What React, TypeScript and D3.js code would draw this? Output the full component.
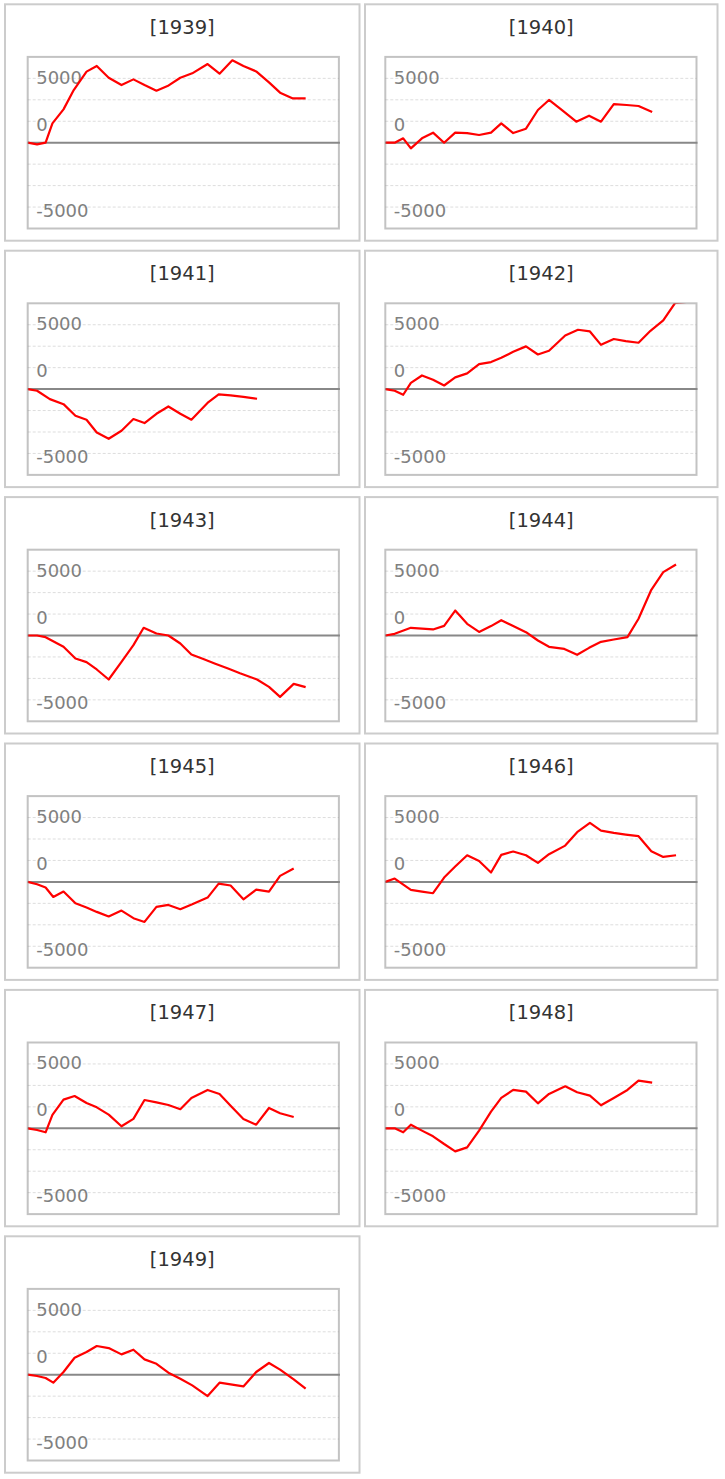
import React from "react";
import * as d3 from "d3";

// ---- data: [day of year, value] ----
const s1939: [number, number][] = [
  [0, 0], [11, -130], [21, 0], [29, 1500], [42, 2590], [54, 4090], [69, 5520], [81, 5960],
  [95, 5050], [110, 4480], [124, 4920], [137, 4480], [151, 4040], [164, 4400], [179, 5050],
  [193, 5390], [211, 6110], [225, 5360], [240, 6400], [253, 5960], [268, 5540], [283, 4690],
  [296, 3890], [311, 3440], [326, 3440],
];
const s1940: [number, number][] = [
  [0, 0], [11, 0], [21, 340], [30, -440], [43, 340], [56, 780], [69, 0], [82, 780], [96, 750],
  [110, 600], [124, 780], [136, 1500], [150, 750], [165, 1090], [179, 2540], [192, 3320],
  [208, 2490], [224, 1630], [239, 2100], [253, 1630], [268, 3000], [283, 2930], [297, 2850],
  [313, 2380],
];
const s1941: [number, number][] = [
  [0, 0], [11, -130], [26, -780], [42, -1170], [56, -2070], [69, -2380], [81, -3370],
  [95, -3860], [110, -3240], [124, -2330], [137, -2640], [151, -1920], [165, -1350],
  [179, -1920], [192, -2380], [212, -1010], [224, -410], [238, -490], [253, -600], [269, -750],
];
const s1942: [number, number][] = [
  [0, 0], [11, -130], [21, -440], [30, 490], [43, 1060], [56, 730], [69, 280], [82, 910],
  [96, 1220], [110, 1940], [124, 2100], [136, 2430], [150, 2900], [165, 3320], [179, 2690],
  [192, 2980], [211, 4170], [226, 4610], [240, 4480], [253, 3440], [268, 3890], [282, 3730],
  [297, 3600], [311, 4530], [326, 5340], [340, 6700], [354, 6780],
];
const s1943: [number, number][] = [
  [0, 0], [11, 0], [21, -130], [42, -880], [56, -1790], [69, -2070], [81, -2640], [95, -3420],
  [110, -2050], [124, -750], [136, 600], [151, 155], [165, 0], [179, -620], [192, -1480],
  [206, -1830], [220, -2190], [235, -2560], [249, -2930], [269, -3420], [283, -3990],
  [296, -4770], [312, -3760], [326, -4010],
];
const s1944: [number, number][] = [
  [0, 0], [11, 130], [30, 600], [43, 540], [56, 470], [69, 750], [82, 1940], [96, 910],
  [110, 280], [124, 730], [136, 1190], [150, 730], [165, 260], [179, -390], [192, -880],
  [210, -1040], [225, -1500], [239, -960], [253, -490], [268, -310], [284, -130], [297, 1300],
  [312, 3550], [326, 4920], [341, 5520],
];
const s1945: [number, number][] = [
  [0, 0], [11, -180], [21, -440], [30, -1170], [42, -750], [56, -1660], [69, -1990],
  [81, -2330], [95, -2690], [110, -2230], [124, -2820], [137, -3110], [151, -1940],
  [165, -1790], [179, -2120], [193, -1740], [211, -1220], [224, -130], [238, -280],
  [253, -1350], [268, -600], [283, -750], [296, 470], [312, 1040],
];
const s1946: [number, number][] = [
  [0, 0], [11, 260], [30, -620], [43, -750], [56, -880], [69, 340], [82, 1190], [96, 2070],
  [110, 1630], [124, 730], [136, 2100], [150, 2360], [165, 2070], [179, 1480], [192, 2150],
  [211, 2820], [225, 3860], [240, 4580], [253, 3990], [268, 3810], [282, 3680], [297, 3550],
  [312, 2380], [326, 1940], [341, 2070],
];
const s1947: [number, number][] = [
  [0, 0], [11, -130], [21, -310], [29, 1040], [42, 2230], [55, 2510], [69, 1970], [81, 1630],
  [95, 1060], [110, 155], [124, 730], [137, 2200], [151, 2020], [165, 1810], [179, 1480],
  [192, 2360], [211, 2980], [225, 2670], [238, 1760], [253, 730], [268, 280], [283, 1580],
  [296, 1170], [312, 880],
];
const s1948: [number, number][] = [
  [0, 0], [11, 0], [21, -310], [30, 280], [43, -180], [56, -620], [69, -1220], [82, -1790],
  [96, -1480], [110, -180], [124, 1300], [136, 2360], [150, 2980], [165, 2850], [179, 1940],
  [192, 2670], [211, 3260], [225, 2800], [240, 2540], [253, 1790], [268, 2360], [284, 2980],
  [297, 3700], [313, 3550],
];
const s1949: [number, number][] = [
  [0, 0], [11, -100], [21, -260], [30, -620], [42, 210], [55, 1320], [69, 1760], [81, 2230],
  [95, 2070], [110, 1580], [124, 1940], [137, 1190], [151, 850], [165, 155], [179, -310],
  [193, -830], [211, -1660], [225, -620], [238, -750], [253, -910], [268, 210], [283, 910],
  [296, 390], [312, -360], [326, -1090],
];

const years = ["1939", "1940", "1941", "1942", "1943", "1944", "1945", "1946", "1947", "1948", "1949"];
const series = [s1939, s1940, s1941, s1942, s1943, s1944, s1945, s1946, s1947, s1948, s1949];
const tickLabels = [5000, 0, -5000];
const yMax = 6666.67;
const dayMax = 365;

// ---- layout ----
const W = 725;
const H = 1479;
const cols = [
  { outerX: 5, outerW: 354.5, plotX: 27.7 },
  { outerX: 365, outerW: 352.5, plotX: 385.3 },
];
const rowPitch = 246.4;
const firstTop = 4.3;
const outerH = 236.4;
const plotTopOff = 52.6;
const plotH = 171.6;
const plotW = 311.2;
const FONT = "'DejaVu Sans', Verdana, sans-serif";

function Panel({ idx }: { idx: number }) {
  const col = cols[idx % 2];
  const row = Math.floor(idx / 2);
  const top = firstTop + row * rowPitch;
  const px = col.plotX;
  const py = top + plotTopOff;
  const x = d3.scaleLinear().domain([0, dayMax]).range([px, px + plotW]);
  const y = d3.scaleLinear().domain([-yMax, yMax]).range([py + plotH, py]);
  const grid = d3.range(-3, 4).map((k) => (k * yMax) / 4);
  const line = d3
    .line<[number, number]>()
    .x((d) => x(d[0]))
    .y((d) => y(d[1]));
  const clipId = `clip-${years[idx]}`;
  return (
    <g>
      <rect
        x={col.outerX}
        y={top}
        width={col.outerW}
        height={outerH}
        fill="#fff"
        stroke="#cccccc"
        strokeWidth={2}
      />
      <text
        x={col.outerX + col.outerW / 2}
        y={top + 29.5}
        textAnchor="middle"
        fontFamily={FONT}
        fontSize={19.5}
        fill="#333"
      >
        [{years[idx]}]
      </text>
      <clipPath id={clipId}>
        <rect x={px} y={py} width={plotW} height={plotH} />
      </clipPath>
      {grid
        .filter((g) => Math.abs(g) > 1e-6)
        .map((g, i) => (
          <line
            key={i}
            x1={px}
            x2={px + plotW}
            y1={y(g)}
            y2={y(g)}
            stroke="#dddddd"
            strokeWidth={1}
            strokeDasharray="3,2"
          />
        ))}
      {tickLabels.map((v) => (
        <text
          key={v}
          x={px + 8.5}
          y={y(v) + (v > 0 ? 5.5 : v < 0 ? 9.5 : -12)}
          fontFamily={FONT}
          fontSize={18}
          fill="#808080"
        >
          {v}
        </text>
      ))}
      <line x1={px} x2={px + plotW + 1} y1={y(0)} y2={y(0)} stroke="#888" strokeWidth={2} />
      <path
        d={line(series[idx]) || ""}
        fill="none"
        stroke="#ff0000"
        strokeWidth={2.2}
        strokeLinejoin="round"
        clipPath={`url(#${clipId})`}
      />
      <rect
        x={px}
        y={py}
        width={plotW}
        height={plotH}
        fill="none"
        stroke="#888"
        strokeOpacity={0.5}
        strokeWidth={2}
      />
    </g>
  );
}

export default function App() {
  return (
    <svg
      width={W}
      height={H}
      style={{ position: "absolute", left: 0, top: 0, background: "#fff" }}
    >
      {series.map((_, i) => (
        <Panel key={i} idx={i} />
      ))}
    </svg>
  );
}
